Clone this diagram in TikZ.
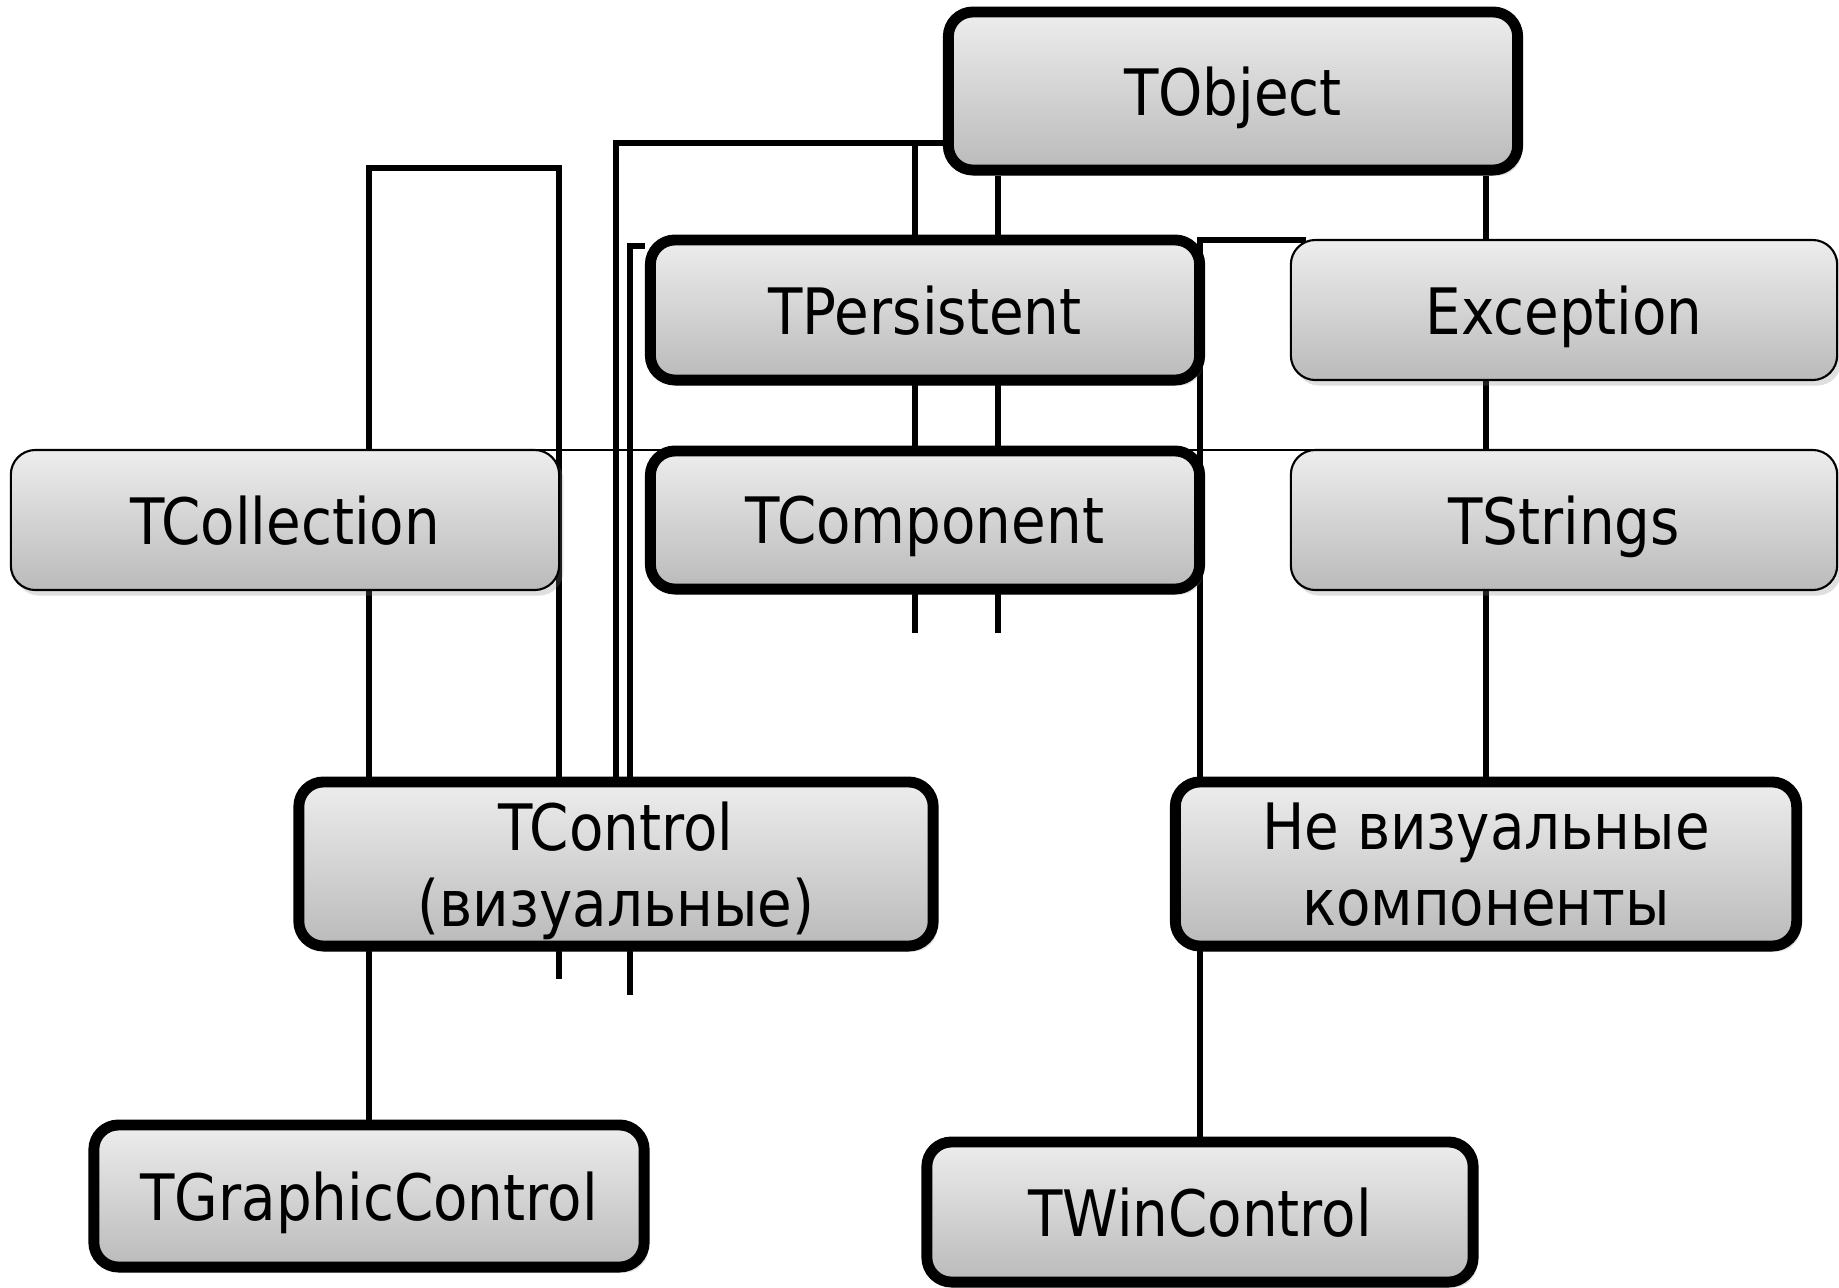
\documentclass[tikz,border=0pt]{standalone}
\usepackage{fontspec}
\setmainfont{DejaVu Sans}[FakeStretch=0.88]
\usetikzlibrary{shadows}
\usetikzlibrary{backgrounds}

\tikzset{
  cls/.style={rectangle, draw, rounded corners=7pt, inner sep=0pt,
    top color=black!7, bottom color=black!27, align=center,
    text depth=0pt, font=\fontsize{18.2}{21.6}\selectfont,
    drop shadow={shadow xshift=1.2pt, shadow yshift=-1.6pt, opacity=0.25}},
  base/.style={cls, line width=3.1pt},
  leaf/.style={cls, line width=0.6pt},
  link/.style={line width=1.9pt},
  hair/.style={line width=0.6pt}
}

\begin{document}
\begin{tikzpicture}[x=0.01cm, y=-0.01cm]
        \useasboundingbox (0,0) rectangle (1839,1287);
        %
        \node[base, minimum width=5.69cm, minimum height=1.58cm] (obj) at (1233,91) {TObject};
        %
        \node[base, minimum width=5.49cm, minimum height=1.40cm] (pers) at (925,310) {TPersistent};
        \node[leaf, minimum width=5.46cm, minimum height=1.40cm] (exc) at (1564,310) {Exception};
        %
        \node[leaf, minimum width=5.48cm, minimum height=1.40cm] (coll) at (285,520) {TCollection};
        \node[base, minimum width=5.49cm, minimum height=1.38cm] (comp) at (925,520) {TComponent};
        \node[leaf, minimum width=5.46cm, minimum height=1.40cm] (strs) at (1564,520) {TStrings};
        %
        \node[base, minimum width=6.34cm, minimum height=1.64cm] (ctrl) at (616,864) {TControl\\(визуальные)};
        \node[base, minimum width=6.21cm, minimum height=1.64cm] (nonvis) at (1486,864) {Не визуальные\\компоненты};
        %
        \node[base, minimum width=5.50cm, minimum height=1.42cm] (gfx) at (369,1196) {TGraphicControl};
        \node[base, minimum width=5.46cm, minimum height=1.40cm] (win) at (1200,1212) {TWinControl};
        %
        \coordinate (hookO) at (616,143);
        \coordinate (hookT) at (915,143);
        \coordinate (stubA) at (915,633);
        \coordinate (stubB) at (998,633);
        \coordinate (hookP) at (630,246);
        \coordinate (stubP) at (630,995);
        \coordinate (loopT) at (559,168);
        \coordinate (stubL) at (559,979);
        \coordinate (hookE) at (1306,240);
        %
        \begin{scope}[on background layer]
        \draw[hair] ([yshift=-0.3pt]coll.north) -- ([yshift=-0.3pt]strs.north);
        \draw[link] (obj.west |- hookO) -- (hookO) -- (hookO |- ctrl.north);
        \draw[link] (hookT) -- (stubA);
        \draw[link] (obj.south -| stubB) -- (stubB);
        \draw[link] (obj.south -| nonvis.north) -- (nonvis.north);
        \draw[link] (pers.west |- hookP) -- (hookP) -- (stubP);
        \draw[link] (gfx.north) -- (gfx.north |- loopT) -- (loopT) -- (stubL);
        \draw[link] (win.north) -- (win.north |- hookE) -- (hookE);
        \end{scope}
      \end{tikzpicture}
\end{document}
